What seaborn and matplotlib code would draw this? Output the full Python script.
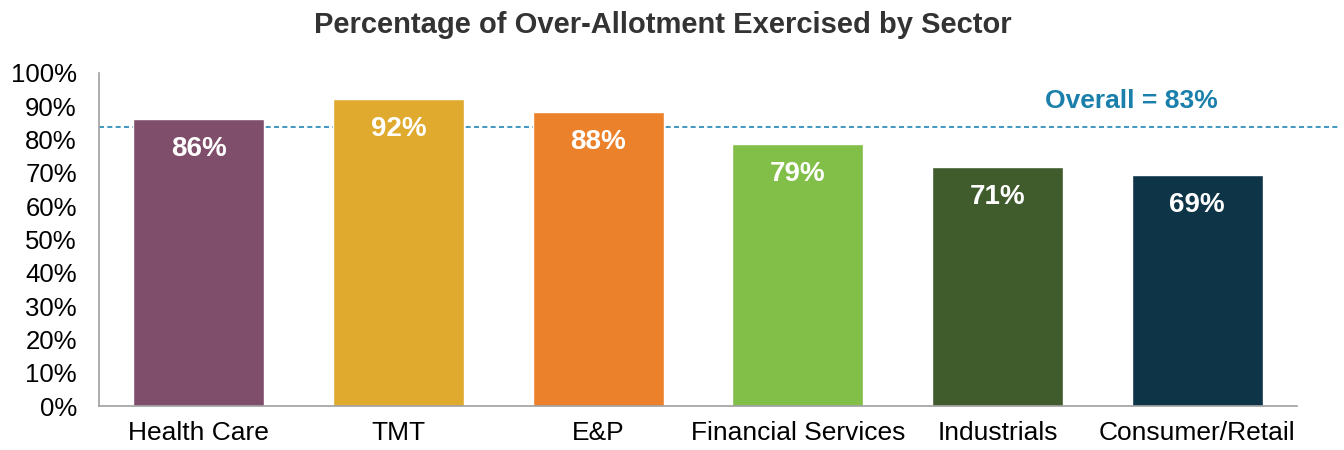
import numpy as np
import pandas as pd
import matplotlib
matplotlib.use('Agg')
import matplotlib.pyplot as plt
import seaborn as sns

# chart data
sectors = ['Health Care', 'TMT', 'E&P', 'Financial Services', 'Industrials', 'Consumer/Retail']
pct_exercised = [0.862, 0.922, 0.883, 0.787, 0.718, 0.694]
bar_labels = ['86%', '92%', '88%', '79%', '71%', '69%']
bar_colors = ['#7f4e6a', '#e0aa2e', '#eb812b', '#82bf48', '#405c2d', '#0d3447']
overall_line = 0.837
overall_text = 'Overall = 83%'
y_ticks = np.arange(0, 1.01, 0.1)

df = pd.DataFrame({'Sector': sectors, 'Pct': pct_exercised})

sns.set_style('white')
plt.rcParams['font.family'] = ['Liberation Sans', 'DejaVu Sans']

fig = plt.figure(figsize=(13.44, 4.5), dpi=100)
ax = fig.add_axes([99/1344, 1 - 406/450, (1340 - 99)/1344, (406 - 73)/450])

sns.barplot(data=df, x='Sector', y='Pct', hue='Sector', palette=bar_colors,
            legend=False, width=0.655, saturation=1, ax=ax)

# labels inside bars
for i, (v, lab) in enumerate(zip(pct_exercised, bar_labels)):
    ax.text(i, v - 0.09, lab, ha='center', va='center', color='white',
            fontsize=20, fontweight='bold')

# overall dashed line
ax.axhline(overall_line, color='#1f86b4', linestyle=(0, (3, 2)), lw=1.2, zorder=0)
ax.text(4.67, 0.915, overall_text, ha='center', va='center', color='#1a80ab',
        fontsize=19, fontweight='bold')

ax.set_ylim(0, 1.0)
ax.set_xlim(-0.5, 5.715)
ax.set_yticks(y_ticks)
ax.set_yticklabels([f'{int(round(t*100))}%' for t in y_ticks], fontsize=18.5, color='black')
ax.set_xticks(range(len(sectors)))
ax.set_xticklabels(sectors, fontsize=19, color='black')
ax.set_xticks(np.arange(-0.5, 6.0, 1.0), minor=True)
ax.tick_params(axis='x', which='major', length=0, pad=11)
ax.tick_params(axis='x', which='minor', length=6, width=1.2, color='#a0a0a0', direction='out')
ax.tick_params(axis='y', length=6, width=1.2, color='#a0a0a0', direction='out', pad=10)
ax.set_xlabel('')
ax.set_ylabel('')

sns.despine(ax=ax, top=True, right=True)
for s in ['left', 'bottom']:
    ax.spines[s].set_color('#a0a0a0')
    ax.spines[s].set_linewidth(1.2)
ax.spines['bottom'].set_bounds(-0.5, 5.5)

fig.text(0.493, 1 - 25/450, 'Percentage of Over-Allotment Exercised by Sector',
         ha='center', va='center', fontsize=21, fontweight='bold', color='#333333')

fig.savefig('out.png', dpi=100)
